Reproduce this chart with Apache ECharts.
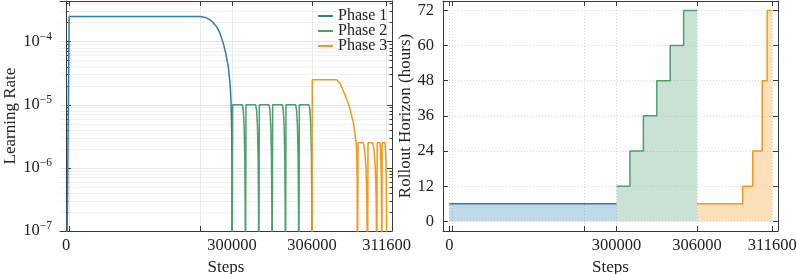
<!DOCTYPE html>
<html><head><meta charset="utf-8">
<script src="https://cdn.jsdelivr.net/npm/echarts@6/dist/echarts.min.js"></script>
<style>html,body{margin:0;padding:0;background:#fff}#c{width:797px;height:274px}</style>
</head><body><div id="c"></div><script>
// ---------------- data ----------------
const phaseNames = ['Phase 1', 'Phase 2', 'Phase 3'];
const xTickSteps = [0, 7000, 297600, 300000, 306000, 311600];
const xLabelSteps = [0, 300000, 306000, 311600];
const lrMajorTicks = [1e-7, 1e-6, 1e-5, 1e-4];
const lrMinorMultipliers = [2, 3, 4, 5, 6, 7, 8, 9];
const horizonTicks = [0, 12, 24, 36, 48, 60, 72];

const lrP1Steps  = [0, 7000, 297600, 298000, 298400, 298850, 299100, 299350, 299550, 299720, 299850, 299925, 299975, 299995, 300000];
const lrP1Values = [0, 2.5e-4, 2.5e-4, 2.42e-4, 2.2e-4, 1.73e-4, 1.35e-4, 9.4e-5, 6.3e-5, 4.0e-5, 2.2e-5, 1.2e-5, 4e-6, 1e-6, 0];

const lrP2Steps = [
  300000, 300050, 300780, 300850, 300910, 300960, 300990, 301000,
  301050, 301780, 301850, 301910, 301960, 301990, 302000,
  302050, 302780, 302850, 302910, 302960, 302990, 303000,
  303050, 303780, 303850, 303910, 303960, 303990, 304000,
  304050, 304780, 304850, 304910, 304960, 304990, 305000,
  305050, 305780, 305850, 305910, 305960, 305990, 306000];
const lrP2Values = [
  0, 1e-5, 1e-5, 8e-6, 4.5e-6, 1.5e-6, 2.5e-7, 0,
  1e-5, 1e-5, 8e-6, 4.5e-6, 1.5e-6, 2.5e-7, 0,
  1e-5, 1e-5, 8e-6, 4.5e-6, 1.5e-6, 2.5e-7, 0,
  1e-5, 1e-5, 8e-6, 4.5e-6, 1.5e-6, 2.5e-7, 0,
  1e-5, 1e-5, 8e-6, 4.5e-6, 1.5e-6, 2.5e-7, 0,
  1e-5, 1e-5, 8e-6, 4.5e-6, 1.5e-6, 2.5e-7, 0];

const lrP3Steps = [
  306000, 306020, 307850, 308100, 308350, 308600, 308850, 309100, 309225, 309350, 309390, 309400,
  309450, 309850, 309950, 310050, 310110, 310140, 310150,
  310200, 310550, 310650, 310750, 310810, 310840, 310850,
  310890, 311100, 311150, 311195, 311218, 311225,
  311260, 311475, 311525, 311570, 311593, 311600];
const lrP3Values = [
  0, 2.5e-5, 2.5e-5, 2.2e-5, 1.67e-5, 1.23e-5, 8.6e-6, 5.2e-6, 3.5e-6, 2.0e-6, 6e-7, 0,
  2.5e-6, 2.5e-6, 1.9e-6, 1.0e-6, 3.5e-7, 8e-8, 0,
  2.5e-6, 2.5e-6, 1.9e-6, 1.0e-6, 3.5e-7, 8e-8, 0,
  2.5e-6, 2.5e-6, 1.7e-6, 7e-7, 1.5e-7, 0,
  2.5e-6, 2.5e-6, 1.7e-6, 7e-7, 1.5e-7, 0];

const horP1Steps = [0, 300000];
const horP1Values = [6, 6];
const horP2Steps = [300000, 301000, 302000, 303000, 304000, 305000, 306000];
const horP2Values = [12, 24, 36, 48, 60, 72, 72];
const horP3Steps = [306000, 309400, 310150, 310850, 311225, 311600];
const horP3Values = [6, 12, 24, 48, 72, 72];

// ---------------- scale helpers ----------------
const BREAK_STEP = 297600, BREAK_U = 10050;   // compressed first segment of the step axis
const toU = s => s <= BREAK_STEP ? s * BREAK_U / BREAK_STEP : BREAK_U + (s - BREAK_STEP);
const LOG_FLOOR = 1e-9;
const pairs = (xs, ys, f) => xs.map((s, i) => [toU(s), f ? f(ys[i]) : ys[i]]);
const tickU = xTickSteps.map(toU);
const labelU = xLabelSteps.map(toU);
const xFmt = v => { const i = labelU.findIndex(u => Math.abs(u - v) < 1); return i >= 0 ? String(xLabelSteps[i]) : ''; };
const lrMinor = [];
lrMajorTicks.forEach(p => lrMinorMultipliers.forEach(m => lrMinor.push(p * m)));

const FONT = 'Liberation Serif';
const COLORS = ['#2d7db3', '#4d9f6c', '#f5981b'];
const AX = '#3a3a3a';
const tick = { fontFamily: FONT, fontSize: 16.5, color: '#222' };
const title = { fontFamily: FONT, fontSize: 17, color: '#222' };

function xAxes(grid, min, max, gridStyle) {
  return [{
    gridIndex: grid, type: 'value', min, max, position: 'bottom',
    axisLine: { onZero: false, lineStyle: { color: AX, width: 1 } },
    axisTick: { inside: true, length: 5, customValues: tickU, lineStyle: { color: AX } },
    axisLabel: { customValues: labelU, formatter: xFmt, ...tick, margin: 6 },
    splitLine: { show: true, lineStyle: gridStyle },
    name: 'Steps', nameLocation: 'middle', nameGap: 25, nameTextStyle: { ...title }
  }, {
    gridIndex: grid, type: 'value', min, max, position: 'top',
    axisLine: { onZero: false, lineStyle: { color: AX, width: 1 } },
    axisTick: { inside: true, length: 5, customValues: tickU, lineStyle: { color: AX } },
    axisLabel: { show: false }, splitLine: { show: false }
  }];
}

const lrMin = 1e-7, lrMax = 4.41e-4;
const supFmt = v => { const e = Math.round(Math.log10(v)); return '{b|10}{s|\u2212' + Math.abs(e) + '}'; };
const logBase = { gridIndex: 0, type: 'log', logBase: 10, min: lrMin, max: lrMax };
const yAxesLR = [
  { ...logBase, position: 'left',
    axisLine: { show: true, lineStyle: { color: AX, width: 1 } },
    axisTick: { inside: true, length: 5, customValues: lrMajorTicks, lineStyle: { color: AX } },
    axisLabel: { customValues: lrMajorTicks, formatter: supFmt, margin: 8,
      rich: { b: { fontFamily: FONT, fontSize: 16.5, color: '#222' },
              s: { fontFamily: FONT, fontSize: 11.5, color: '#222', padding: [0, 0, 10, 0] } } },
    splitLine: { show: true, lineStyle: { color: '#e4e4e4', width: 1 } },
    name: 'Learning Rate', nameLocation: 'middle', nameGap: 37, nameRotate: 90, nameTextStyle: { ...title } },
  { ...logBase, position: 'left',
    axisLine: { show: false },
    axisTick: { inside: true, length: 2.5, customValues: lrMinor, lineStyle: { color: AX } },
    axisLabel: { show: false },
    splitLine: { show: true, lineStyle: { color: '#f0f0f0', width: 1 } } },
  { ...logBase, position: 'right',
    axisLine: { show: true, lineStyle: { color: AX, width: 1 } },
    axisTick: { inside: true, length: 5, customValues: lrMajorTicks, lineStyle: { color: AX } },
    axisLabel: { show: false }, splitLine: { show: false } },
  { ...logBase, position: 'right',
    axisLine: { show: false },
    axisTick: { inside: true, length: 2.5, customValues: lrMinor, lineStyle: { color: AX } },
    axisLabel: { show: false }, splitLine: { show: false } }
];

const horBase = { gridIndex: 1, type: 'value', min: -3.3, max: 75.2 };
const dotted = { color: '#d8d8d8', width: 1, type: [1, 2] };
const yAxesH = [
  { ...horBase, position: 'left',
    axisLine: { show: true, onZero: false, lineStyle: { color: AX, width: 1 } },
    axisTick: { inside: true, length: 5, customValues: horizonTicks, lineStyle: { color: AX } },
    axisLabel: { customValues: horizonTicks, ...tick, margin: 9 },
    splitLine: { show: true, lineStyle: dotted },
    name: 'Rollout Horizon (hours)', nameLocation: 'middle', nameGap: 23, nameRotate: 90, nameTextStyle: { ...title } },
  { ...horBase, position: 'right',
    axisLine: { show: true, onZero: false, lineStyle: { color: AX, width: 1 } },
    axisTick: { inside: true, length: 5, customValues: horizonTicks, lineStyle: { color: AX } },
    axisLabel: { show: false }, splitLine: { show: false } }
];

const lrSeries = [[lrP1Steps, lrP1Values], [lrP2Steps, lrP2Values], [lrP3Steps, lrP3Values]].map((d, i) => ({
  name: phaseNames[i], type: 'line', xAxisIndex: 0, yAxisIndex: 0,
  data: pairs(d[0], d[1], v => Math.max(v, LOG_FLOOR)),
  showSymbol: false, symbol: 'none', clip: true, z: 5,
  lineStyle: { color: COLORS[i], width: 1.5 }, itemStyle: { color: COLORS[i] }
}));
const horSeries = [[horP1Steps, horP1Values], [horP2Steps, horP2Values], [horP3Steps, horP3Values]].map((d, i) => ({
  name: phaseNames[i] + ' horizon', type: 'line', xAxisIndex: 2, yAxisIndex: 4, step: 'end',
  data: pairs(d[0], d[1]),
  showSymbol: false, symbol: 'none', clip: true, z: 5,
  lineStyle: { color: COLORS[i], width: 1.5 }, itemStyle: { color: COLORS[i] },
  areaStyle: { color: COLORS[i], opacity: 0.3 }
}));

const chart = echarts.init(document.getElementById('c'), null, { renderer: 'canvas' });
chart.setOption({
  animation: false,
  backgroundColor: '#fff',
  grid: [
    { left: 60, top: 1, width: 332, height: 230, outerBoundsMode: 'none', containLabel: false },
    { left: 443, top: 1, width: 335, height: 230, outerBoundsMode: 'none', containLabel: false }
  ],
  legend: {
    data: phaseNames, orient: 'vertical', left: 318, top: 8, padding: 0,
    icon: 'rect', itemWidth: 15, itemHeight: 2, itemGap: -1,
    textStyle: { fontFamily: FONT, fontSize: 16, color: '#222', lineHeight: 15, height: 15 }
  },
  xAxis: [...xAxes(0, -450, 24450, { color: '#e8e8e8', width: 1 }), ...xAxes(1, -480, 24480, dotted)],
  yAxis: [...yAxesLR, ...yAxesH],
  series: [...lrSeries, ...horSeries]
});
</script></body></html>
